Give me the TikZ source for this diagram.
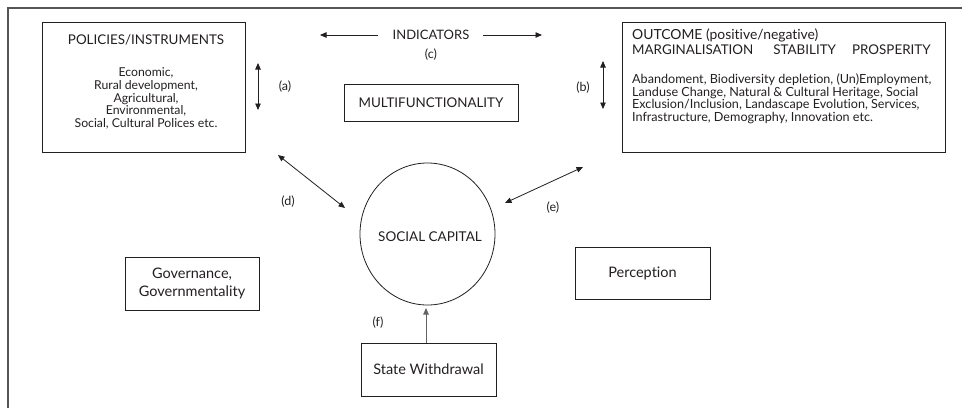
\documentclass[tikz,border=0pt]{standalone}
\usepackage{fontspec}
\setmainfont[Ligatures={NoCommon,NoRare}]{Lato}
\usetikzlibrary{arrows.meta,shapes.geometric}
\definecolor{ink}{HTML}{231F20}
\definecolor{framegray}{HTML}{555555}
\tikzset{
  box/.style={draw=ink, line width=0.9pt, inner sep=0pt, text=ink},
  head/.style={inner sep=0pt, text=ink, font=\fontsize{13.4}{15}\selectfont},
  body/.style={inner sep=0pt, text=ink, font=\fontsize{12.25}{12.8}\selectfont},
  lbl/.style={inner sep=0pt, text=ink, font=\fontsize{12.5}{14}\selectfont},
  boxtext/.style={font=\fontsize{14.5}{18}\selectfont},
  link/.style={draw=ink, line width=0.8pt, {Triangle[length=6.5pt,width=5.5pt]}-{Triangle[length=6.5pt,width=5.5pt]}},
  onelink/.style={draw=ink!70, line width=0.8pt, -{Triangle[length=6.5pt,width=5.5pt]}},
}
\begin{document}
\begin{tikzpicture}[x=1pt,y=-1pt]
\useasboundingbox (0,0) rectangle (962,408);
% figure frame, cut off at right and bottom
\draw[framegray, line width=1.6pt] (8,408) -- (8,8) -- (962,8);

% policies
\node[box, minimum width=203, minimum height=130] (pol) at (143.5,87.5) {};
\node[head] (polh) at (146,40) {POLICIES/INSTRUMENTS};
\node[body, align=center] (polb) at (146,98.5) {Economic,\\Rural development,\\Agricultural,\\Environmental,\\Social, Cultural Polices etc.};
\coordinate (a1) at (258,63);
\coordinate (a2) at (258,110);
\draw[link] (a1) -- (a2);
\node[lbl] (la) at (285,87) {(a)};

% indicators
\node[head, font=\fontsize{13}{15}\selectfont] (ind) at (431,35) {INDICATORS};
\coordinate (il) at (320,35);
\coordinate (ir) at (542,35);
\coordinate (ilx) at (378,35);
\coordinate (irx) at (483,35);
\draw[onelink, draw=ink] (ilx) -- (il);
\draw[onelink, draw=ink] (irx) -- (ir);
\node[lbl] (lc) at (431,55) {(c)};

% multifunctionality
\node[box, head, minimum width=174, minimum height=37] (mf) at (431,102.5) {MULTIFUNCTIONALITY};

% outcome
\coordinate (b1) at (603,61);
\coordinate (b2) at (603,109);
\draw[link] (b1) -- (b2);
\node[lbl] (lb) at (583,88) {(b)};
\node[box, minimum width=323, minimum height=130] (out) at (783.5,87.5) {};
\node[head, anchor=west, font=\fontsize{13.9}{15}\selectfont] (outh1) at (632,35) {OUTCOME (positive/negative)};
\node[head, anchor=west] (outh2) at (632,50) {MARGINALISATION\hspace{20pt}STABILITY\hspace{16pt}PROSPERITY};
\node[body, align=left, anchor=west, font=\fontsize{12.6}{12.5}\selectfont] (outb) at (632,99) {Abandoment, Biodiversity depletion, (Un)Employment,\\Landuse Change, Natural \& Cultural Heritage, Social\\Exclusion/Inclusion, Landascape Evolution, Services,\\Infrastructure, Demography, Innovation etc.};

% social capital
\node[draw=ink, line width=0.8pt, ellipse, minimum width=135, minimum height=142, inner sep=0pt] (sc) at (427.5,234) {};
\node[head, font=\fontsize{13.5}{15}\selectfont] (sct) at (430,237) {SOCIAL CAPITAL};

\coordinate (d1) at (278,155);
\coordinate (d2) at (345,208);
\draw[link] (d1) -- (d2);
\node[lbl] (ld) at (288,202) {(d)};

\coordinate (e1) at (505,203);
\coordinate (e2) at (583,167);
\draw[link] (e1) -- (e2);
\node[lbl] (le) at (553,208) {(e)};

% other boxes
\node[box, boxtext, align=center, minimum width=134, minimum height=53] (gov) at (192,283.5) {Governance,\\Governmentality};
\node[box, boxtext, minimum width=135, minimum height=52] (per) at (642.5,273) {Perception};
\node[box, boxtext, minimum width=135, minimum height=53] (sw) at (428.5,369.5) {State Withdrawal};

\coordinate (f1) at (426,343);
\coordinate (f2) at (426,308);
\draw[onelink] (f1) -- (f2);
\node[lbl] (lf) at (378,323) {(f)};
\end{tikzpicture}
\end{document}
